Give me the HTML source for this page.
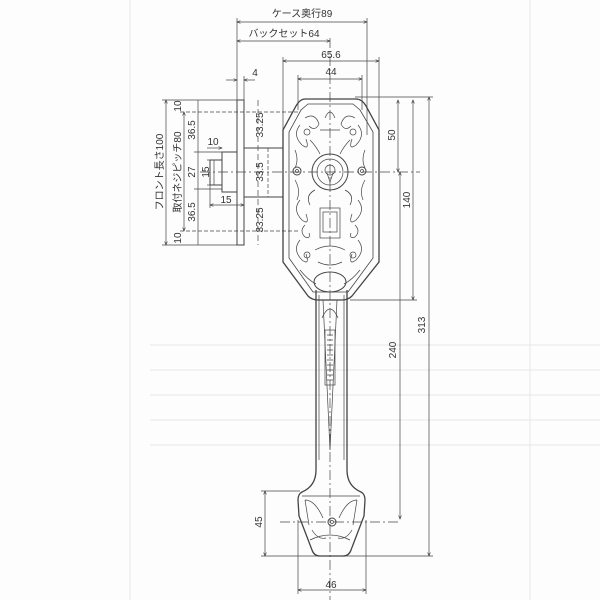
<!DOCTYPE html>
<html><head><meta charset="utf-8"><style>
body{margin:0;background:#fff}
svg{display:block}
text{font-family:"Liberation Sans","Noto Sans CJK JP",sans-serif;font-size:10px;fill:#333}
</style></head><body>
<svg width="600" height="600" viewBox="0 0 600 600" xmlns="http://www.w3.org/2000/svg">
<defs><marker id="a" markerWidth="6" markerHeight="6" refX="5" refY="3" orient="auto-start-reverse"><path d="M0,1 L5,3 L0,5" fill="none" stroke="#333" stroke-width="0.8"/></marker></defs>
<rect width="600" height="600" fill="#fdfdfd"/>
<g stroke="#e6e6e6" stroke-width="1" fill="none">
<line x1="150" y1="345" x2="600" y2="345"/><line x1="150" y1="370" x2="600" y2="370"/>
<line x1="150" y1="395" x2="600" y2="395"/><line x1="150" y1="420" x2="600" y2="420"/>
<line x1="150" y1="445" x2="600" y2="445"/><line x1="130" y1="0" x2="130" y2="600"/>
<line x1="530" y1="0" x2="530" y2="600"/>
</g>
<g stroke="#444" stroke-width="0.7" fill="none">
<line x1="237" y1="22" x2="367" y2="22" marker-start="url(#a)" marker-end="url(#a)"/>
<line x1="237" y1="41" x2="330" y2="41" marker-start="url(#a)" marker-end="url(#a)"/>
<line x1="283" y1="61" x2="379" y2="61" marker-start="url(#a)" marker-end="url(#a)"/>
<line x1="298" y1="79" x2="362" y2="79" marker-start="url(#a)" marker-end="url(#a)"/>
<line x1="226" y1="80" x2="237" y2="80" marker-end="url(#a)"/>
<line x1="255" y1="80" x2="244" y2="80" marker-end="url(#a)"/>
<line x1="237" y1="18" x2="237" y2="100"/><line x1="367" y1="18" x2="367" y2="135"/>
<line x1="244" y1="76" x2="244" y2="100"/>
<line x1="283" y1="57" x2="283" y2="130"/><line x1="379" y1="57" x2="379" y2="130"/>
<line x1="298" y1="75" x2="298" y2="110"/><line x1="362" y1="75" x2="362" y2="110"/>
<line x1="330" y1="38" x2="330" y2="600" stroke-dasharray="10,3,2,3"/>
<line x1="166" y1="100" x2="166" y2="245" marker-start="url(#a)" marker-end="url(#a)"/>
<line x1="184" y1="112" x2="184" y2="231" marker-start="url(#a)" marker-end="url(#a)"/>
<line x1="198" y1="100" x2="198" y2="245"/>
<line x1="162" y1="100" x2="237" y2="100"/><line x1="162" y1="245" x2="237" y2="245"/>
<line x1="180" y1="112" x2="300" y2="112" stroke-dasharray="4,2"/>
<line x1="180" y1="231" x2="300" y2="231" stroke-dasharray="4,2"/>
<line x1="194" y1="152" x2="222" y2="152"/><line x1="194" y1="189" x2="222" y2="189"/>
<line x1="214" y1="160" x2="214" y2="185"/>
<line x1="207" y1="160" x2="214" y2="160"/><line x1="207" y1="185" x2="214" y2="185"/>
<line x1="210" y1="205" x2="244" y2="205" marker-start="url(#a)" marker-end="url(#a)"/>
<line x1="210" y1="185" x2="210" y2="208"/>
<line x1="207" y1="148" x2="222" y2="148" marker-end="url(#a)"/>
<line x1="258" y1="100" x2="258" y2="245" stroke-dasharray="6,3"/>
<line x1="268" y1="148" x2="268" y2="197" stroke-dasharray="4,2"/>
<rect x="237" y="100" width="7" height="145" stroke-width="1"/>
<rect x="244" y="148" width="39" height="49" stroke-width="1"/>
<rect x="222" y="152" width="15" height="40" stroke-width="1"/>
<rect x="210" y="160" width="12" height="25" stroke-width="1"/>
<line x1="200" y1="172" x2="420" y2="172" stroke-dasharray="10,3,2,3"/>
<path d="M305,99 L356,99 Q362,99 366,106 L379,130 L379,262 L352,296 Q348,300 342,300 L318,300 Q312,300 308,296 L283,262 L283,130 L296,106 Q300,99 305,99 Z" stroke-width="1.3"/>
<path d="M308,104 L353,104 L360,110 L373,132 L373,258 L348,292 L313,292 L289,258 L289,132 L301,110 Z" stroke-width="0.8"/>
<circle cx="330" cy="172" r="18" stroke-width="1"/><circle cx="330" cy="172" r="13"/>
<circle cx="330" cy="170" r="5"/><path d="M327,173 L330,182 L333,173"/>
<circle cx="297" cy="171" r="4" stroke-width="1"/><circle cx="297" cy="171" r="1.5"/>
<circle cx="362" cy="171" r="4" stroke-width="1"/><circle cx="362" cy="171" r="1.5"/>
<rect x="320" y="208" width="20" height="30"/><rect x="323" y="212" width="14" height="20"/>
<path d="M300,125 q-8,10 2,20 q8,6 4,-6 M358,125 q8,10 -2,20 q-8,6 -4,-6 M300,200 q-8,10 2,20 q8,6 4,-6 M358,200 q8,10 -2,20 q-8,6 -4,-6 M300,240 q-8,10 2,20 q8,6 4,-6 M358,240 q8,10 -2,20 q-8,6 -4,-6 M325,118 q5,-12 10,0 M320,130 l20,0 M310,205 q-5,-10 5,-15 M350,205 q5,-10 -5,-15"/>
<path d="M305,118 q10,-6 14,6 q-4,8 -10,2 M355,118 q-10,-6 -14,6 q4,8 10,2 M295,150 q4,10 0,18 M365,150 q-4,10 0,18 M295,180 q6,10 2,20 M365,180 q-6,10 -2,20 M305,225 q-6,6 0,12 q6,2 4,-4 M355,225 q6,6 0,12 q-6,2 -4,-4 M315,250 q15,-8 30,0 M318,262 q12,6 24,0 M300,270 q8,10 16,14 M360,270 q-8,10 -16,14 M310,140 q6,6 10,14 M350,140 q-6,6 -10,14"/>
<circle cx="307" cy="132" r="3"/><circle cx="353" cy="132" r="3"/><circle cx="307" cy="255" r="3"/><circle cx="353" cy="255" r="3"/>
<ellipse cx="330" cy="282" rx="16" ry="10" stroke-width="1"/>
<path d="M316,290 L316,470 Q316,486 302,492 Q298,494 298,500 L299,516 L312,550 Q314,556 320,556 L343,556 Q349,556 351,550 L364,516 L365,500 Q365,494 361,492 Q347,486 347,470 L347,290" stroke-width="1.3"/>
<path d="M323,300 L330,450 L337,300 Z"/>
<path d="M319,295 L319,460 M344,295 L344,460"/>
<rect x="325" y="330" width="10" height="55"/>
<path d="M327,335 h6 M327,340 h6 M327,345 h6 M327,350 h6 M327,355 h6 M327,360 h6 M327,365 h6 M327,370 h6 M327,375 h6 M327,380 h6"/>
<path d="M322,318 q8,-18 16,0 M305,500 q10,0 18,18 M357,500 q-10,0 -18,18 M310,540 q20,-10 40,0 M305,500 l4,25 M357,500 l-4,25 M312,530 q6,10 14,8 M352,530 q-6,10 -14,8 M302,496 h58"/>
<circle cx="332" cy="522" r="4" stroke-width="1"/><circle cx="332" cy="522" r="1.5"/>
<line x1="280" y1="522" x2="400" y2="522" stroke-dasharray="10,3,2,3"/>
<line x1="398" y1="100" x2="398" y2="172" marker-start="url(#a)" marker-end="url(#a)"/>
<line x1="413" y1="100" x2="413" y2="300" marker-start="url(#a)" marker-end="url(#a)"/>
<line x1="400" y1="172" x2="400" y2="519" marker-start="url(#a)" marker-end="url(#a)"/>
<line x1="429" y1="97" x2="429" y2="556" marker-start="url(#a)" marker-end="url(#a)"/>
<line x1="355" y1="97" x2="433" y2="97"/><line x1="350" y1="300" x2="417" y2="300"/>
<line x1="265" y1="491" x2="265" y2="556" marker-start="url(#a)" marker-end="url(#a)"/>
<line x1="261" y1="491" x2="300" y2="491"/><line x1="261" y1="556" x2="433" y2="556"/>
<line x1="298" y1="590" x2="366" y2="590" marker-start="url(#a)" marker-end="url(#a)"/>
<line x1="298" y1="520" x2="298" y2="594"/><line x1="366" y1="520" x2="366" y2="594"/>
</g>
<text x="302" y="17" text-anchor="middle">ケース奥行89</text>
<text x="284" y="37" text-anchor="middle">バックセット64</text>
<text x="331" y="58" text-anchor="middle">65.6</text>
<text x="331" y="75" text-anchor="middle">44</text>
<text x="255" y="76" text-anchor="middle">4</text>
<text x="213" y="145" text-anchor="middle">10</text>
<text x="226" y="203" text-anchor="middle">15</text>
<text x="331" y="588" text-anchor="middle">46</text>
<g>
<text transform="translate(163,172) rotate(-90)" text-anchor="middle">フロント長さ100</text>
<text transform="translate(181,172) rotate(-90)" text-anchor="middle">取付ネジピッチ80</text>
<text transform="translate(181,106) rotate(-90)" text-anchor="middle">10</text>
<text transform="translate(195,130) rotate(-90)" text-anchor="middle">36.5</text>
<text transform="translate(195,172) rotate(-90)" text-anchor="middle">27</text>
<text transform="translate(209,172) rotate(-90)" text-anchor="middle">15</text>
<text transform="translate(195,212) rotate(-90)" text-anchor="middle">36.5</text>
<text transform="translate(181,238) rotate(-90)" text-anchor="middle">10</text>
<text transform="translate(263,125) rotate(-90)" text-anchor="middle">33.25</text>
<text transform="translate(263,172) rotate(-90)" text-anchor="middle">33.5</text>
<text transform="translate(263,220) rotate(-90)" text-anchor="middle">33.25</text>
<text transform="translate(395,135) rotate(-90)" text-anchor="middle">50</text>
<text transform="translate(410,200) rotate(-90)" text-anchor="middle">140</text>
<text transform="translate(396,350) rotate(-90)" text-anchor="middle">240</text>
<text transform="translate(425,325) rotate(-90)" text-anchor="middle">313</text>
<text transform="translate(262,522) rotate(-90)" text-anchor="middle">45</text>
</g>
</svg>
</body></html>
